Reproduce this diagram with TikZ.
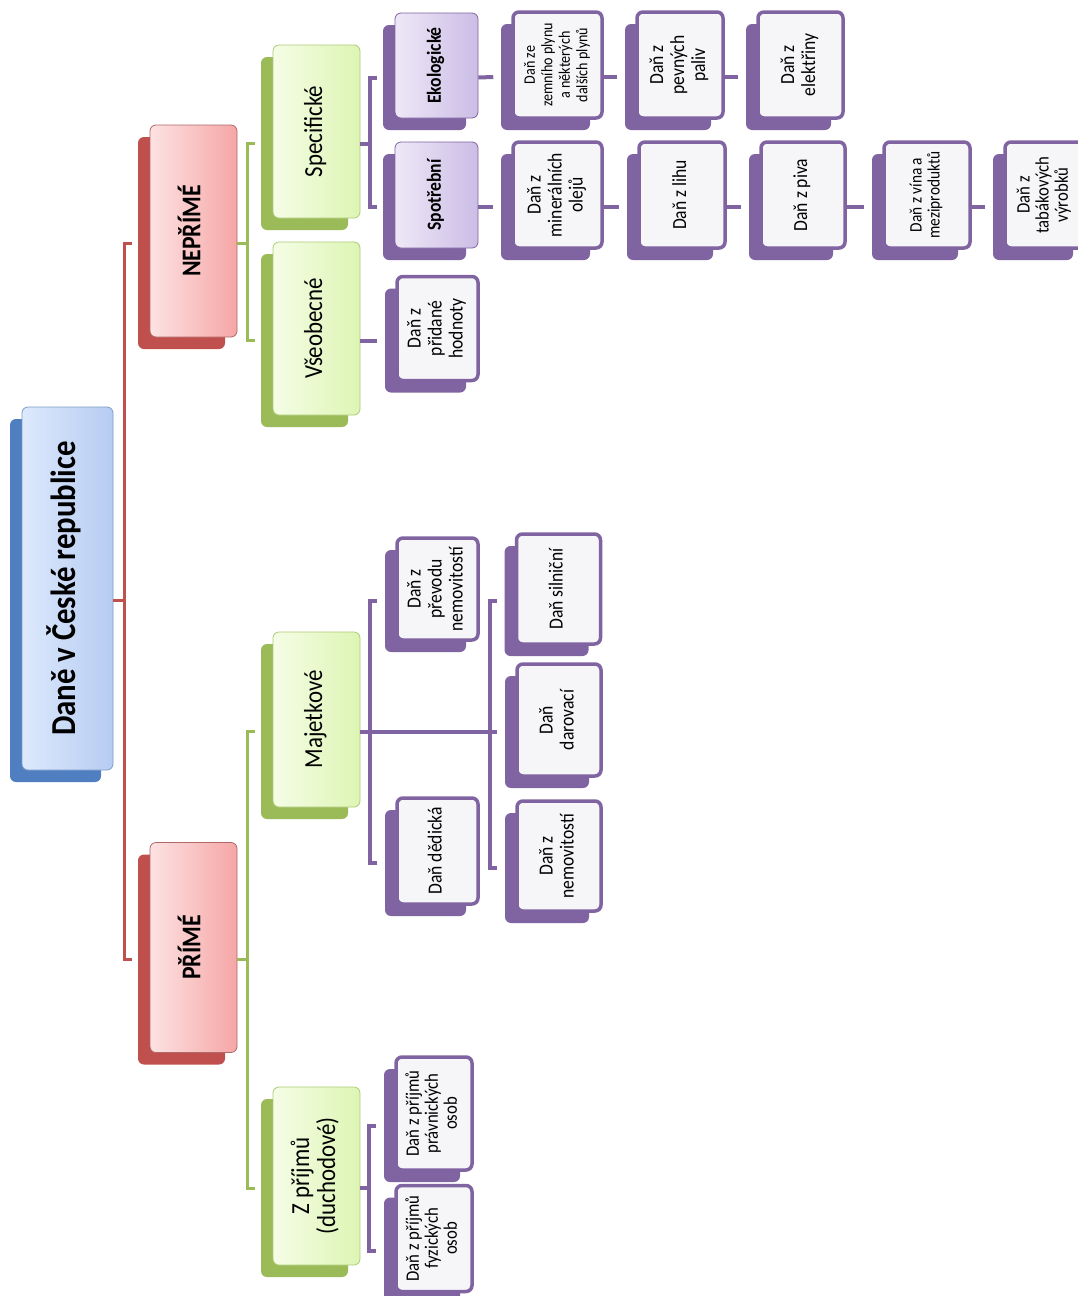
\documentclass[tikz,border=0pt]{standalone}
\usepackage{fontspec}
\usepackage{graphicx}
\setmainfont{Carlito}
\newfontfamily\cf[FakeStretch=0.88]{Carlito}
\usetikzlibrary{shadows,calc}
\definecolor{rootsh}{HTML}{4F7FC0}
\definecolor{rootbd}{HTML}{7E9CC9}
\definecolor{rootA}{HTML}{DDE9FC}
\definecolor{rootB}{HTML}{B6CCF2}
\definecolor{redsh}{HTML}{C0504D}
\definecolor{redbd}{HTML}{B06868}
\definecolor{redA}{HTML}{FDE2E2}
\definecolor{redB}{HTML}{F6A6A6}
\definecolor{grnsh}{HTML}{9BBB59}
\definecolor{grnbd}{HTML}{AECB78}
\definecolor{grnA}{HTML}{F5FDE6}
\definecolor{grnB}{HTML}{DDF5B4}
\definecolor{pursh}{HTML}{8064A2}
\definecolor{purA}{HTML}{EEE8F7}
\definecolor{purB}{HTML}{CBBDE5}
\definecolor{leafin}{HTML}{F6F5F8}
\newcommand{\rt}[2]{\rotatebox{90}{#1\begin{tabular}{@{}c@{}}#2\end{tabular}}}
\tikzset{
  base/.style={rounded corners=6pt, inner sep=0pt, text=black, font=\cf},
  rootbox/.style={base, draw=rootbd, line width=0.8pt, left color=rootA, right color=rootB,
    general shadow={fill=rootsh, shadow xshift=-12pt, shadow yshift=-12pt}},
  redbox/.style={base, draw=redbd, line width=0.8pt, left color=redA, right color=redB,
    general shadow={fill=redsh, shadow xshift=-12pt, shadow yshift=-12pt}},
  grnbox/.style={base, draw=grnbd, line width=0.8pt, left color=grnA, right color=grnB,
    general shadow={fill=grnsh, shadow xshift=-12pt, shadow yshift=-12pt}},
  purbox/.style={base, draw=pursh, line width=0.8pt, left color=purA, right color=purB,
    general shadow={fill=pursh, shadow xshift=-12pt, shadow yshift=-12pt}},
  leafbox/.style={base, draw=pursh, line width=3.5pt, fill=leafin,
    general shadow={fill=pursh, shadow xshift=-12pt, shadow yshift=-12pt}},
  redc/.style={draw=redsh, line width=3pt},
  grnc/.style={draw=grnsh, line width=3pt},
  purc/.style={draw=pursh, line width=4pt},
}
\begin{document}
\begin{tikzpicture}[x=1pt,y=-1pt]
\fill[white] (0,0) rectangle (1077,1296);
\useasboundingbox (0,0) rectangle (1077,1296);
% level 0
\node[rootbox, minimum width=91, minimum height=363] (root) at (67.5,588.5)
  {\rt{\fontsize{35}{40}\selectfont\bfseries}{Daně v České republice}};
% level 1
\node[redbox, minimum width=87, minimum height=212] (nep) at (193.5,231)
  {\rt{\fontsize{27}{30}\selectfont\bfseries}{NEPŘÍMÉ}};
\node[redbox, minimum width=87, minimum height=210] (pri) at (193.5,947.5)
  {\rt{\fontsize{27}{30}\selectfont\bfseries}{PŘÍMÉ}};
% level 2
\node[grnbox, minimum width=87, minimum height=173] (spec) at (316.5,131.5)
  {\rt{\fontsize{26}{28}\selectfont}{Specifické}};
\node[grnbox, minimum width=87, minimum height=173] (vseo) at (316.5,328.5)
  {\rt{\fontsize{26}{28}\selectfont}{Všeobecné}};
\node[grnbox, minimum width=87, minimum height=175] (maj) at (316.5,719.5)
  {\rt{\fontsize{26}{28}\selectfont}{Majetkové}};
\node[grnbox, minimum width=87, minimum height=178] (zpr) at (316.5,1176)
  {\rt{\fontsize{26}{24}\selectfont}{Z příjmů\\(duchodové)}};
% level 3
\node[purbox, minimum width=83, minimum height=105] (eko) at (436.5,65.5)
  {\rt{\fontsize{20}{22}\selectfont\bfseries}{Ekologické}};
\node[purbox, minimum width=83, minimum height=106] (spot) at (436.5,195)
  {\rt{\fontsize{20}{22}\selectfont\bfseries}{Spotřební}};
% leaves
\node[leafbox, minimum width=81, minimum height=104] (dph) at (437.5,328.5)
  {\rt{\fontsize{20}{21}\selectfont}{Daň z\\přidané\\hodnoty}};
\node[leafbox, minimum width=81, minimum height=102] (prev) at (437.5,589)
  {\rt{\fontsize{20}{21}\selectfont}{Daň z\\převodu\\nemovitostí}};
\node[leafbox, minimum width=81, minimum height=106] (ded) at (437.5,851)
  {\rt{\fontsize{20}{21}\selectfont}{Daň dědická}};
\node[leafbox, minimum width=84, minimum height=110] (sil) at (558.5,589)
  {\rt{\fontsize{20}{21}\selectfont}{Daň silniční}};
\node[leafbox, minimum width=84, minimum height=112] (dar) at (559,720)
  {\rt{\fontsize{20}{21}\selectfont}{Daň\\darovací}};
\node[leafbox, minimum width=84, minimum height=110] (nem) at (559,856)
  {\rt{\fontsize{20}{21}\selectfont}{Daň z\\nemovitostí}};
\node[leafbox, minimum width=76, minimum height=113] (prav) at (434,1113.5)
  {\rt{\fontsize{19}{19}\selectfont}{Daň z příjmů\\právnických\\osob}};
\node[leafbox, minimum width=76, minimum height=106] (fyz) at (434,1238.5)
  {\rt{\fontsize{19}{19}\selectfont}{Daň z příjmů\\fyzických\\osob}};
\node[leafbox, minimum width=89, minimum height=106] (zem) at (557.5,65)
  {\rt{\fontsize{16}{17.5}\selectfont}{Daň ze\\zemního plynu\\a některých\\dalších plynů}};
\node[leafbox, minimum width=86, minimum height=106] (pev) at (680,65)
  {\rt{\fontsize{20}{21}\selectfont}{Daň z\\pevných\\paliv}};
\node[leafbox, minimum width=85, minimum height=106] (ele) at (800.5,65)
  {\rt{\fontsize{20}{21}\selectfont}{Daň z\\elektřiny}};
\node[leafbox, minimum width=89, minimum height=106] (min) at (557.5,195)
  {\rt{\fontsize{20}{21}\selectfont}{Daň z\\minerálních\\olejů}};
\node[leafbox, minimum width=86, minimum height=106] (lih) at (682,195)
  {\rt{\fontsize{20}{21}\selectfont}{Daň z lihu}};
\node[leafbox, minimum width=84, minimum height=106] (piv) at (803,195)
  {\rt{\fontsize{20}{21}\selectfont}{Daň z piva}};
\node[leafbox, minimum width=86, minimum height=106] (vin) at (927,195)
  {\rt{\fontsize{17.5}{18}\selectfont}{Daň z vína a\\meziproduktů}};
\node[leafbox, minimum width=80, minimum height=106] (tab) at (1045,195)
  {\rt{\fontsize{19}{19}\selectfont}{Daň z\\tabákových\\výrobků}};
% connectors: brackets
\foreach \c in {nep,pri}
  \draw[redc] ([xshift=-18pt,yshift=-12pt]\c.west) -- ++(-7pt,0) |- ([yshift=-12pt]root.east);
\foreach \c in {spec,vseo}
  \draw[grnc] ([xshift=-18pt,yshift=-12pt]\c.west) -- ++(-7pt,0) |- ([yshift=-12pt]nep.east);
\foreach \c in {maj,zpr}
  \draw[grnc] ([xshift=-18pt,yshift=-12pt]\c.west) -- ++(-7pt,0) |- ([yshift=-12pt]pri.east);
\foreach \c in {eko,spot}
  \draw[purc] ([xshift=-18pt,yshift=-12pt]\c.west) -- ++(-7pt,0) |- ([yshift=-12pt]spec.east);
\foreach \c in {prev,ded,sil,dar,nem}
  \draw[purc] ([xshift=-18pt,yshift=-12pt]\c.west) -- ++(-7pt,0) |- ([yshift=-12pt]maj.east);
\foreach \c in {prav,fyz}
  \draw[purc] ([xshift=-18pt,yshift=-12pt]\c.west) -- ++(-7pt,0) |- ([yshift=-12pt]zpr.east);
\draw[purc] ([yshift=-12pt]vseo.east) -- ([xshift=-18pt,yshift=-12pt]dph.west);
% chains
\draw[purc] ([yshift=-12pt]eko.east) -- ([xshift=-18pt,yshift=-12pt]zem.west);
\draw[purc] ([yshift=-12pt]zem.east) -- ([xshift=-18pt,yshift=-12pt]pev.west);
\draw[purc] ([yshift=-12pt]pev.east) -- ([xshift=-18pt,yshift=-12pt]ele.west);
\draw[purc] ([yshift=-12pt]spot.east) -- ([xshift=-18pt,yshift=-12pt]min.west);
\draw[purc] ([yshift=-12pt]min.east) -- ([xshift=-18pt,yshift=-12pt]lih.west);
\draw[purc] ([yshift=-12pt]lih.east) -- ([xshift=-18pt,yshift=-12pt]piv.west);
\draw[purc] ([yshift=-12pt]piv.east) -- ([xshift=-18pt,yshift=-12pt]vin.west);
\draw[purc] ([yshift=-12pt]vin.east) -- ([xshift=-18pt,yshift=-12pt]tab.west);
\end{tikzpicture}
\end{document}
